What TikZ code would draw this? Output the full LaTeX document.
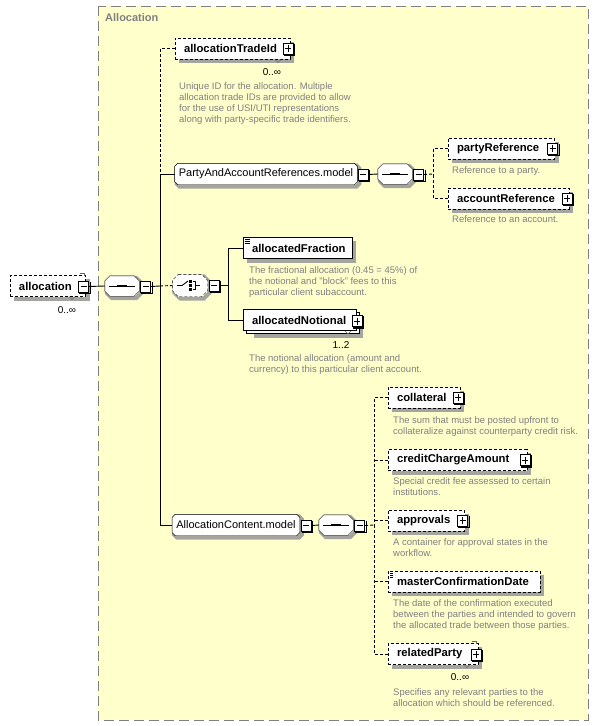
\documentclass[tikz,border=0pt]{standalone}
\usepackage{fontspec}
\setmainfont{Liberation Sans}
\usetikzlibrary{calc}
\definecolor{bgyellow}{HTML}{FFFFCC}
\definecolor{descgray}{HTML}{808080}
\definecolor{framegray}{HTML}{808080}
\definecolor{shadowgrey}{RGB}{165,165,160}
\newcommand\xname{\fontsize{11.3}{13}\selectfont\bfseries}
\newcommand\xmodel{\fontsize{11}{13}\selectfont}
\newcommand\xdesc{\fontsize{9.5}{11}\selectfont}
\newcommand\xocc{\fontsize{10}{12}\selectfont}
\pgfdeclarelayer{framelayer}
\pgfdeclarelayer{shapelayer}
\pgfsetlayers{framelayer,shapelayer,main}
% octagon path round node #1, chamfer #2, offset #3
\newcommand\octpath[3]{([xshift=#3pt+#2pt,yshift=-#3pt]#1.north west) -- ([xshift=#3pt-#2pt,yshift=-#3pt]#1.north east) -- ([xshift=#3pt,yshift=-#3pt-#2pt]#1.north east) -- ([xshift=#3pt,yshift=-#3pt+#2pt]#1.south east) -- ([xshift=#3pt-#2pt,yshift=-#3pt]#1.south east) -- ([xshift=#3pt+#2pt,yshift=-#3pt]#1.south west) -- ([xshift=#3pt,yshift=-#3pt+#2pt]#1.south west) -- ([xshift=#3pt,yshift=-#3pt-#2pt]#1.north west) -- cycle}
\newcommand\octshape[3]{% node, chamfer, extra style
  \begin{pgfonlayer}{shapelayer}\draw[sstroke] \octpath{#1}{#2}{2};
  \draw[fill=white,line join=round,#3] \octpath{#1}{#2}{0};\end{pgfonlayer}}
\newcommand\rectshadow[1]{\begin{pgfonlayer}{shapelayer}\draw[sstroke] ([xshift=2pt,yshift=-4pt]#1.north east) -- ([xshift=2pt,yshift=-2pt]#1.south east) -- ([xshift=4pt,yshift=-2pt]#1.south west);\end{pgfonlayer}}
\newcommand\pmshadow[1]{\draw[black,line width=1.2pt] ([xshift=1pt,yshift=-1pt]#1.north east) -- ([xshift=1pt,yshift=-1pt]#1.south east) -- ([xshift=1pt,yshift=-1pt]#1.south west);}
\newcommand\seqicon[1]{\draw[line width=0.9pt] ([xshift=4pt]#1.west) -- ([xshift=-4pt]#1.east);
  \draw[line width=2.6pt] ([xshift=-5pt]#1.center) -- ([xshift=5pt]#1.center);}
\begin{document}
\begin{tikzpicture}[x=1pt,y=-1pt,line width=0.9pt,
  sstroke/.style={draw=shadowgrey,line width=4pt,line cap=butt,line join=miter},
  elembase/.style={draw=black,fill=white,minimum height=21pt,inner xsep=9pt,inner ysep=0pt,font=\xname,align=left},
  req/.style={elembase},
  opt/.style={elembase,dash pattern=on 3pt off 2pt},
  model/.style={rectangle,minimum height=21pt,inner xsep=4pt,inner ysep=0pt,font=\xmodel},
  comp/.style={rectangle,minimum width=34pt,minimum height=20pt,inner sep=0pt},
  pm/.style={draw,fill=white,minimum width=10pt,minimum height=11pt,inner sep=0pt,line width=0.8pt},
  minusbox/.style={pm,path picture={\draw[line width=0.9pt] ([xshift=2pt]path picture bounding box.west) -- ([xshift=-2pt]path picture bounding box.east);}},
  plusbox/.style={pm,path picture={\draw[line width=0.9pt] ([xshift=2pt]path picture bounding box.west) -- ([xshift=-2pt]path picture bounding box.east);
    \draw[line width=0.9pt] ([yshift=-2pt]path picture bounding box.north) -- ([yshift=2pt]path picture bounding box.south);}},
  docicon/.style={path picture={\foreach \d in {2,4,6}{\draw[line width=0.6pt] ([xshift=2pt,yshift=-\d pt]path picture bounding box.north west) -- ++(5,0);}}},
  conn/.style={draw,line width=0.9pt},
  dconn/.style={conn,dash pattern=on 3pt off 2pt},
  desc/.style={anchor=north west,inner sep=0pt,align=left,font=\xdesc,text=descgray},
  occ/.style={font=\xocc,inner sep=0pt},
  occmark/.style={draw=black!60,line width=0.6pt}
]
\useasboundingbox (0,0) rectangle (598,726);
\begin{pgfonlayer}{framelayer}
\draw[white,fill=white] (0,0) rectangle (598,726);
\draw[framegray,fill=bgyellow,dash pattern=on 10pt off 5pt,line width=1pt] (98,6) rectangle (588,720);
\end{pgfonlayer}
\node[anchor=west,inner sep=0pt,font=\fontsize{11}{13}\selectfont\bfseries,text=framegray] (title) at (105,18) {Allocation};

% root element
\node[opt,minimum width=75.5pt,text width=57.5pt] (allocation) at (47.75,286) {allocation};
\rectshadow{allocation}
\node[minusbox] (allocation-m) at ($(allocation.east)+(-2,0.5)$) {};
\pmshadow{allocation-m}
\node[occ] (occ-allocation) at (67,310) {0..∞};
\draw[occmark] (69,296.5) -- (72,299.5) -- (75,296.5);
\draw[occmark] (80,273) -- (84,273) -- (84,276);

% sequence 1
\node[comp] (seq1) at (122,286) {};
\octshape{seq1}{5}{}
\seqicon{seq1}
\node[minusbox] (seq1-m) at ($(seq1.east)+(6.5,0.5)$) {};
\pmshadow{seq1-m}

% branch points on the main vertical
\coordinate (v1a) at (160,174);
\coordinate (v1b) at (160,286);
\coordinate (v1c) at (160,525);

% allocationTradeId
\node[opt,minimum width=115pt,text width=97pt] (allocationTradeId) at (232.5,48.5) {allocationTradeId};
\rectshadow{allocationTradeId}
\node[plusbox] (allocationTradeId-p) at ($(allocationTradeId.east)+(-2,0)$) {};
\pmshadow{allocationTradeId-p}
\node[occ] (occ-atid) at (272,72) {0..∞};
\draw[occmark] (275,59.5) -- (278,62.5) -- (281,59.5);
\node[desc] (d-atid) at (179,82.5) {Unique ID for the allocation. Multiple\\allocation trade IDs are provided to allow\\for the use of USI/UTI representations\\along with party-specific trade identifiers.};

% PartyAndAccountReferences.model
\node[model,minimum width=182pt] (par) at (266,174) {PartyAndAccountReferences.model};
\octshape{par}{3}{}
\node[minusbox] (par-m) at ($(par.east)+(6,0.5)$) {};
\pmshadow{par-m}
\node[comp] (seq2) at (395,174) {};
\octshape{seq2}{5}{}
\seqicon{seq2}
\node[minusbox] (seq2-m) at ($(seq2.east)+(6.5,0.5)$) {};
\pmshadow{seq2-m}
\coordinate (v2) at (433,174);
\node[opt,minimum width=106.5pt,text width=88.5pt] (partyReference) at (501.25,148.5) {partyReference};
\rectshadow{partyReference}
\node[plusbox] (partyReference-p) at ($(partyReference.east)+(-2,0)$) {};
\pmshadow{partyReference-p}
\node[desc] (d-pr) at (452,166.5) {Reference to a party.};
\node[opt,minimum width=121pt,text width=103pt] (accountReference) at (508.5,198.5) {accountReference};
\rectshadow{accountReference}
\node[plusbox] (accountReference-p) at ($(accountReference.east)+(-2,0)$) {};
\pmshadow{accountReference-p}
\node[desc] (d-ar) at (452,215.5) {Reference to an account.};

% choice
\node[comp,minimum width=35pt,minimum height=22pt] (choice) at (190,285.5) {};
\octshape{choice}{6}{dash pattern=on 3pt off 2pt}
\draw[line width=0.9pt] ([xshift=-13pt]choice.center) -- ++(5,0) -- ++(6,-4.5);
\foreach \d in {-4,0,4}{\draw[line width=2.4pt] ([xshift=-0.8pt,yshift=-\d pt]choice.center) -- ([xshift=1.6pt,yshift=-\d pt]choice.center);}
\draw[line width=0.9pt] ([xshift=2.5pt,yshift=4pt]choice.center) -- ++(2.5,0) -- ++(0,8) -- ++(-2.5,0);
\draw[line width=0.9pt] ([xshift=5pt]choice.center) -- ++(5,0);
\node[minusbox] (choice-m) at ($(choice.east)+(6.5,0)$) {};
\pmshadow{choice-m}
\coordinate (v3) at (228,285.5);
\node[req,docicon,minimum width=109pt,text width=91pt] (allocatedFraction) at (297.5,248) {allocatedFraction};
\rectshadow{allocatedFraction}
\node[desc] (d-af) at (249,266.5) {The fractional allocation (0.45 = 45\%) of\\the notional and "block" fees to this\\particular client subaccount.};
\begin{pgfonlayer}{shapelayer}
\draw[sstroke] (361,320.5) -- (361,335.5) -- (254,335.5);
\draw[fill=white] (246,312.5) rectangle (359,333.5);
\end{pgfonlayer}
\node[elembase,minimum width=113pt,text width=95pt] (allocatedNotional) at (299.5,320) {allocatedNotional};
\node[plusbox] (allocatedNotional-p) at ($(allocatedNotional.east)+(1,1)$) {};
\pmshadow{allocatedNotional-p}
\draw[occmark] (345,331) -- (348,334) -- (351,331);
\node[occ] (occ-an) at (341,345) {1..2};
\node[desc] (d-an) at (249,354.5) {The notional allocation (amount and\\currency) to this particular client account.};

% AllocationContent.model
\node[model,minimum width=122pt] (acm) at (236,525) {AllocationContent.model};
\octshape{acm}{3}{}
\node[minusbox] (acm-m) at ($(acm.east)+(6.5,0.5)$) {};
\pmshadow{acm-m}
\node[comp] (seq3) at (336,525) {};
\octshape{seq3}{5}{}
\seqicon{seq3}
\node[minusbox] (seq3-m) at ($(seq3.east)+(6.5,0.5)$) {};
\pmshadow{seq3-m}
\coordinate (v4) at (374,525);

\node[opt,minimum width=72pt,text width=54pt] (collateral) at (424,397.5) {collateral};
\rectshadow{collateral}
\node[plusbox] (collateral-p) at ($(collateral.east)+(-2,0)$) {};
\pmshadow{collateral-p}
\node[desc] (d-col) at (393,416.5) {The sum that must be posted upfront to\\collateralize against counterparty credit risk.};

\node[opt,minimum width=139pt,text width=121pt] (creditChargeAmount) at (457.5,460) {creditChargeAmount};
\rectshadow{creditChargeAmount}
\node[plusbox] (creditChargeAmount-p) at ($(creditChargeAmount.east)+(-2,0)$) {};
\pmshadow{creditChargeAmount-p}
\node[desc] (d-cca) at (393,477.5) {Special credit fee assessed to certain\\institutions.};

\node[opt,minimum width=76.5pt,text width=58.5pt] (approvals) at (426.25,520.5) {approvals};
\rectshadow{approvals}
\node[plusbox] (approvals-p) at ($(approvals.east)+(-2,0)$) {};
\pmshadow{approvals-p}
\node[desc] (d-app) at (393,538.5) {A container for approval states in the\\workflow.};

\node[opt,docicon,minimum width=152pt,text width=134pt] (masterConfirmationDate) at (464,581.5) {masterConfirmationDate};
\rectshadow{masterConfirmationDate}
\node[desc] (d-mcd) at (393,599.5) {The date of the confirmation executed\\between the parties and intended to govern\\the allocated trade between those parties.};

\node[opt,minimum width=90pt,text width=72pt] (relatedParty) at (433,654) {relatedParty};
\rectshadow{relatedParty}
\node[plusbox] (relatedParty-p) at ($(relatedParty.east)+(-2,0.5)$) {};
\pmshadow{relatedParty-p}
\draw[occmark] (464,664.5) -- (467,667.5) -- (470,664.5);
\draw[occmark] (472,641) -- (476,641) -- (476,644);
\node[occ] (occ-rp) at (460,677) {0..∞};
\node[desc] (d-rp) at (393,688.5) {Specifies any relevant parties to the\\allocation which should be referenced.};

% connectors
\draw[conn] (allocation-m.east) -- (seq1.west);
\draw[conn] (seq1-m.east) -- (v1b);
\draw[dconn] (allocationTradeId.west) -| (v1a);
\draw[conn] (par.west) -| (v1c);
\draw[conn] (v1c) -- (acm.west);
\draw[dconn] (v1b) -- (choice.west);
\draw[conn] (par-m.east) -- (seq2.west);
\draw[dconn] (seq2-m.east) -- (v2);
\draw[dconn] (partyReference.west) -| (v2);
\draw[dconn] (accountReference.west) -| (v2);
\draw[conn] (choice-m.east) -- (v3);
\draw[conn] (allocatedFraction.west) -| (v3);
\draw[conn] (allocatedNotional.west) -| (v3);
\draw[conn] (acm-m.east) -- (seq3.west);
\draw[dconn] (seq3-m.east) -- (v4);
\draw[dconn] (collateral.west) -| (v4);
\draw[dconn] (relatedParty.west) -| (v4);
\draw[dconn] (creditChargeAmount.west) -- (creditChargeAmount.west -| v4);
\draw[dconn] (approvals.west) -- (approvals.west -| v4);
\draw[dconn] (masterConfirmationDate.west) -- (masterConfirmationDate.west -| v4);
\end{tikzpicture}
\end{document}
